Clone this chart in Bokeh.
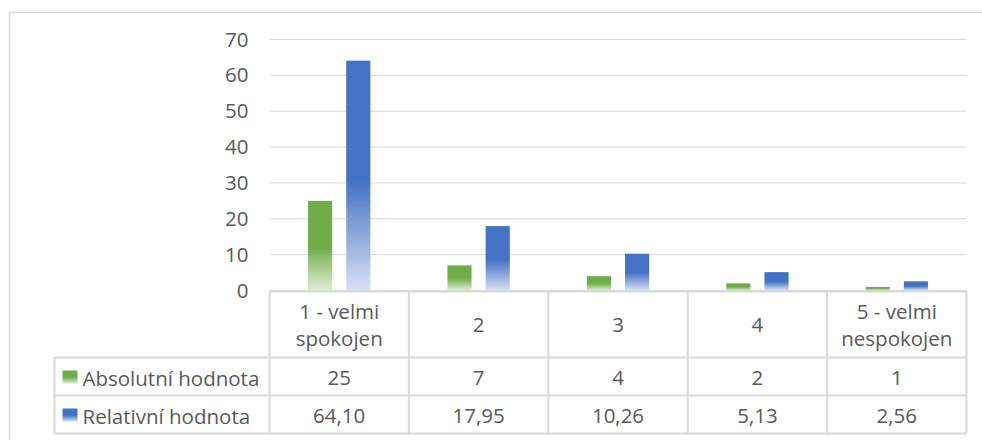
import numpy as np
from bokeh.plotting import figure
from bokeh.models import Range1d
from bokeh.core.properties import value
from bokeh.embed import file_html
from bokeh.resources import INLINE

# --- data -------------------------------------------------------------
categories = ["1 - velmi\nspokojen", "2", "3", "4", "5 - velmi\nnespokojen"]
absolutni = [25, 7, 4, 2, 1]
relativni = [64.10, 17.95, 10.26, 5.13, 2.56]
series_names = ["Absolutní hodnota", "Relativní hodnota"]
y_ticks = [0, 10, 20, 30, 40, 50, 60, 70]

# --- layout (pixels) --------------------------------------------------
W, H = 982, 440
PLOT_L, PLOT_R = 269, 966
ZERO_Y, TOP_Y = 290, 39
Y_MAX = 70
CAT_W = (PLOT_R - PLOT_L) / len(categories)
PX_PER_UNIT = (ZERO_Y - TOP_Y) / Y_MAX

ROW_CAT = (291, 357)
ROW_ABS = (357, 395)
ROW_REL = (395, 433)
LEGEND_L = 54

FONT = value("Open Sans")
TEXT_COLOR = "#595959"
LINE_COLOR = "#d9d9d9"

GREEN = ((0x70, 0xAD, 0x47), (0xE0, 0xEF, 0xD8))
BLUE = ((0x44, 0x72, 0xC4), (0xD8, 0xE1, 0xF3))
FADE_PART = 0.48   # lower share of each column that fades out


def gradient_image(colors, rows=256):
    """Vertical RGBA strip: solid on top, fading towards the light colour at the bottom."""
    solid, light = np.array(colors[0], float), np.array(colors[1], float)
    s = (np.arange(rows) + 0.5) / rows            # 0 at bottom, 1 at top
    f = np.clip(1 - s / FADE_PART, 0, 1)[:, None]  # 1 at bottom -> 0 at fade start
    rgb = np.round(solid + (light - solid) * f).astype(np.uint32)
    rgba = (255 << 24) | (rgb[:, 2] << 16) | (rgb[:, 1] << 8) | rgb[:, 0]
    return np.repeat(rgba[:, None], 2, axis=1).astype(np.uint32)


p = figure(width=W, height=H, x_range=Range1d(0, W), y_range=Range1d(H, 0),
           x_axis_type=None, y_axis_type=None, toolbar_location=None,
           output_backend="svg", min_border=0, outline_line_color=None,
           background_fill_color="white", border_fill_color="white")
p.extra_x_ranges = {"cat": Range1d(-PLOT_L / CAT_W, (W - PLOT_L) / CAT_W)}
p.extra_y_ranges = {"val": Range1d(-(H - ZERO_Y) / PX_PER_UNIT, ZERO_Y / PX_PER_UNIT)}

# outer chart frame
p.segment(x0=[9, 9], y0=[12, 12], x1=[W + 10, 9], y1=[12, H + 10],
          line_color=LINE_COLOR, line_width=1.5)

# horizontal gridlines
p.segment(x0=[0] * len(y_ticks), x1=[len(categories)] * len(y_ticks),
          y0=y_ticks, y1=y_ticks, x_range_name="cat", y_range_name="val",
          line_color=LINE_COLOR, line_width=1)

text_kw = dict(text_font=FONT, text_font_size="20.5px", text_color=TEXT_COLOR,
               text_baseline="middle")

# y tick labels
p.text(x=[PLOT_L - 21] * len(y_ticks), y=y_ticks, text=[str(t) for t in y_ticks],
       y_range_name="val", text_align="right", **text_kw)

# bars: each column is a gradient strip stretched to its value
BAR_W = 0.173
OFFSET = 0.137
for vals, colors, off in ((absolutni, GREEN, -OFFSET), (relativni, BLUE, OFFSET)):
    strip = gradient_image(colors)
    xs = [i + 0.5 + off - BAR_W / 2 for i in range(len(vals))]
    p.image_rgba(image=[strip] * len(vals), x=xs, y=[0] * len(vals),
                 dw=[BAR_W] * len(vals), dh=list(vals),
                 x_range_name="cat", y_range_name="val")

# data table grid
n = len(categories)
edges = list(range(n + 1))
p.segment(x0=edges, x1=edges, y0=[ROW_CAT[0]] * (n + 1), y1=[ROW_REL[1]] * (n + 1),
          x_range_name="cat", line_color=LINE_COLOR, line_width=2)
p.segment(x0=[PLOT_L, LEGEND_L, LEGEND_L, LEGEND_L],
          x1=[PLOT_R] * 4,
          y0=[ROW_CAT[0], ROW_ABS[0], ROW_REL[0], ROW_REL[1]],
          y1=[ROW_CAT[0], ROW_ABS[0], ROW_REL[0], ROW_REL[1]],
          line_color=LINE_COLOR, line_width=2)
p.segment(x0=[LEGEND_L], x1=[LEGEND_L], y0=[ROW_ABS[0]], y1=[ROW_REL[1]],
          line_color=LINE_COLOR, line_width=2)

centers = [i + 0.5 for i in range(n)]

# category row
p.text(x=centers, y=[sum(ROW_CAT) / 2] * n, text=categories, x_range_name="cat",
       text_align="center", text_line_height=0.97, **text_kw)

# value rows
abs_labels = [str(v) for v in absolutni]
rel_labels = [f"{v:.2f}".replace(".", ",") for v in relativni]
p.text(x=centers, y=[sum(ROW_ABS) / 2 + 1] * n, text=abs_labels, x_range_name="cat",
       text_align="center", **text_kw)
p.text(x=centers, y=[sum(ROW_REL) / 2 + 1] * n, text=rel_labels, x_range_name="cat",
       text_align="center", **text_kw)

# legend keys and series names; the page's y axis runs downwards, so the
# key strip is flipped to keep its solid end on top
for (row, colors, name) in ((ROW_ABS, GREEN, series_names[0]),
                            (ROW_REL, BLUE, series_names[1])):
    cy = sum(row) / 2 + 0.5
    key = gradient_image(colors, rows=64)[::-1].copy()
    p.image_rgba(image=[key], x=[62], y=[cy - 6.5], dw=[15], dh=[13])
    p.text(x=[82], y=[cy + 0.5], text=[name], text_align="left", **text_kw)

open("out.html", "w").write(file_html(p, INLINE))
